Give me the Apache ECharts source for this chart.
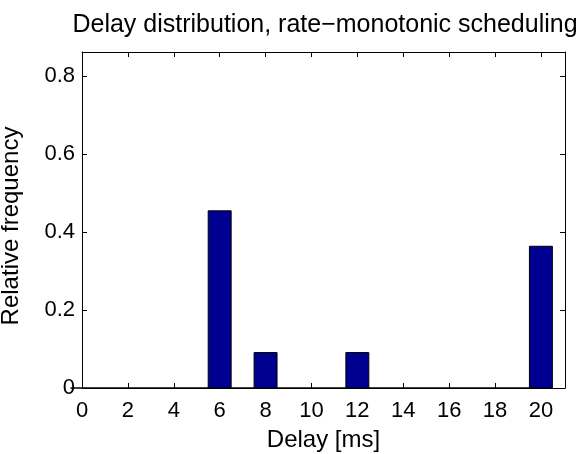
<!DOCTYPE html>
<html><head><meta charset="utf-8">
<script src="https://cdn.jsdelivr.net/npm/echarts@6/dist/echarts.min.js"></script>
<style>html,body{margin:0;padding:0;background:#fff}#c{width:584px;height:454px}</style>
</head><body><div id="c"></div>
<script>
const delays = [0,1,2,3,4,5,6,7,8,9,10,11,12,13,14,15,16,17,18,19,20];
const freq = [0,0,0,0,0,0,0.4545,0,0.0909,0,0,0,0.0909,0,0,0,0,0,0,0,0.3636];
const xTicks = [0,2,4,6,8,10,12,14,16,18,20];
const yTicks = [0,0.2,0.4,0.6,0.8];
const binWidth = 1;

const F = 'Liberation Sans, Arial, sans-serif';
const chart = echarts.init(document.getElementById('c'), null, {renderer:'canvas'});
const axLine = {show:true, onZero:false, lineStyle:{color:'#000', width:1}};
const tick = {show:true, inside:true, length:5, lineStyle:{color:'#000', width:1}};
chart.setOption({
  animation:false,
  title:{text:'Delay distribution, rate\u2212monotonic scheduling', left:320, top:8, textAlign:'center',
    textStyle:{fontFamily:F, fontSize:25, fontWeight:'normal', color:'#000'}},
  grid:{left:82, right:19, top:52, bottom:66, containLabel:false, outerBoundsMode:'none'},
  xAxis:[{type:'value', min:0, max:21.05, interval:2, position:'bottom',
      axisLine:axLine, axisTick:tick, splitLine:{show:false},
      axisLabel:{showMaxLabel:false, fontFamily:F, fontSize:22, color:'#000', margin:12,
        formatter:v=>xTicks.includes(v)?String(v):''},
      name:'Delay [ms]', nameLocation:'middle', nameGap:40,
      nameTextStyle:{fontFamily:F, fontSize:24, color:'#000'}},
    {type:'value', min:0, max:21.05, interval:2, position:'top',
      axisLine:axLine, axisTick:tick, axisLabel:{show:false}, splitLine:{show:false}}],
  yAxis:[{type:'value', min:0, max:0.862, interval:0.2, position:'left',
      axisLine:axLine, axisTick:tick, splitLine:{show:false},
      axisLabel:{showMaxLabel:false, fontFamily:F, fontSize:22, color:'#000', margin:7,
        formatter:v=>v===0?'0':(yTicks.some(t=>Math.abs(t-v)<1e-9)?v.toFixed(1):'')},
      name:'Relative frequency', nameLocation:'middle', nameGap:59,
      nameTextStyle:{fontFamily:F, fontSize:24, color:'#000', padding:[0,12,0,0]}},
    {type:'value', min:0, max:0.862, interval:0.2, position:'right',
      axisLine:axLine, axisTick:tick, axisLabel:{show:false}, splitLine:{show:false}}],
  series:[{type:'custom', xAxisIndex:0, yAxisIndex:0,
    data: delays.map((d,i)=>[d, freq[i]]),
    renderItem:(params, api)=>{
      const x = api.value(0), y = api.value(1);
      const p0 = api.coord([x - binWidth/2, y]);
      const p1 = api.coord([x + binWidth/2, 0]);
      return {type:'rect', shape:{x:p0[0], y:p0[1], width:p1[0]-p0[0], height:p1[1]-p0[1]},
        style:{fill:'#000090', stroke:'#000', lineWidth:1}};
    }}]
});
</script></body></html>
